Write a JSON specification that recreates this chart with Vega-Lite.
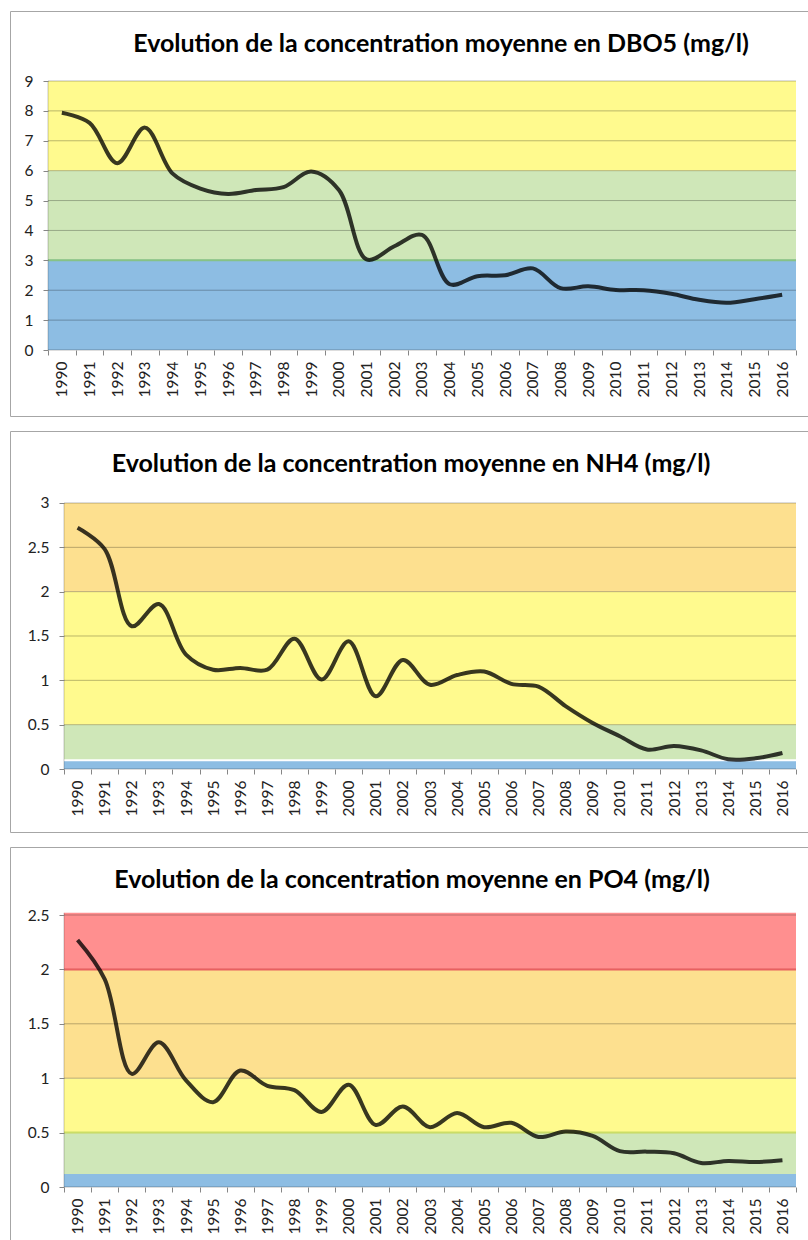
{
  "$schema": "https://vega.github.io/schema/vega-lite/v6.json",
  "padding": {"left": 9, "top": 10, "right": 0, "bottom": 0},
  "background": "white",
  "spacing": 15,
  "bounds": "flush",
  "datasets": {
    "dbo5": [
      {"year": 1990, "value": 7.94}, {"year": 1991, "value": 7.6}, {"year": 1992, "value": 6.25}, {"year": 1993, "value": 7.44},
      {"year": 1994, "value": 5.9}, {"year": 1995, "value": 5.4}, {"year": 1996, "value": 5.22}, {"year": 1997, "value": 5.35},
      {"year": 1998, "value": 5.45}, {"year": 1999, "value": 5.97}, {"year": 2000, "value": 5.35}, {"year": 2001, "value": 3.03},
      {"year": 2002, "value": 3.47}, {"year": 2003, "value": 3.85}, {"year": 2004, "value": 2.2}, {"year": 2005, "value": 2.47},
      {"year": 2006, "value": 2.5}, {"year": 2007, "value": 2.73}, {"year": 2008, "value": 2.07}, {"year": 2009, "value": 2.13},
      {"year": 2010, "value": 2.01}, {"year": 2011, "value": 2.0}, {"year": 2012, "value": 1.88}, {"year": 2013, "value": 1.68},
      {"year": 2014, "value": 1.58}, {"year": 2015, "value": 1.7}, {"year": 2016, "value": 1.85}
    ],
    "nh4": [
      {"year": 1990, "value": 2.72}, {"year": 1991, "value": 2.48}, {"year": 1992, "value": 1.61}, {"year": 1993, "value": 1.86},
      {"year": 1994, "value": 1.29}, {"year": 1995, "value": 1.12}, {"year": 1996, "value": 1.14}, {"year": 1997, "value": 1.12},
      {"year": 1998, "value": 1.47}, {"year": 1999, "value": 1.01}, {"year": 2000, "value": 1.44}, {"year": 2001, "value": 0.82},
      {"year": 2002, "value": 1.23}, {"year": 2003, "value": 0.95}, {"year": 2004, "value": 1.06}, {"year": 2005, "value": 1.1},
      {"year": 2006, "value": 0.96}, {"year": 2007, "value": 0.93}, {"year": 2008, "value": 0.71}, {"year": 2009, "value": 0.52},
      {"year": 2010, "value": 0.37}, {"year": 2011, "value": 0.22}, {"year": 2012, "value": 0.26}, {"year": 2013, "value": 0.21},
      {"year": 2014, "value": 0.11}, {"year": 2015, "value": 0.12}, {"year": 2016, "value": 0.18}
    ],
    "po4": [
      {"year": 1990, "value": 2.27}, {"year": 1991, "value": 1.91}, {"year": 1992, "value": 1.04}, {"year": 1993, "value": 1.33},
      {"year": 1994, "value": 0.98}, {"year": 1995, "value": 0.78}, {"year": 1996, "value": 1.07}, {"year": 1997, "value": 0.93},
      {"year": 1998, "value": 0.89}, {"year": 1999, "value": 0.69}, {"year": 2000, "value": 0.94}, {"year": 2001, "value": 0.57},
      {"year": 2002, "value": 0.74}, {"year": 2003, "value": 0.55}, {"year": 2004, "value": 0.68}, {"year": 2005, "value": 0.55},
      {"year": 2006, "value": 0.59}, {"year": 2007, "value": 0.46}, {"year": 2008, "value": 0.51}, {"year": 2009, "value": 0.47},
      {"year": 2010, "value": 0.33}, {"year": 2011, "value": 0.325}, {"year": 2012, "value": 0.31}, {"year": 2013, "value": 0.22},
      {"year": 2014, "value": 0.24}, {"year": 2015, "value": 0.23}, {"year": 2016, "value": 0.245}
    ],
    "bands_dbo5": [
      {"lo": 0, "hi": 3, "cls": "bleu"}, {"lo": 3, "hi": 6, "cls": "vert"}, {"lo": 6, "hi": 9, "cls": "jaune"}
    ],
    "bands_nh4": [
      {"lo": 0, "hi": 0.1, "cls": "bleu"}, {"lo": 0.1, "hi": 0.5, "cls": "vert"}, {"lo": 0.5, "hi": 2, "cls": "jaune"}, {"lo": 2, "hi": 3, "cls": "orange"}
    ],
    "bands_po4": [
      {"lo": 0, "hi": 0.12, "cls": "bleu"}, {"lo": 0.12, "hi": 0.5, "cls": "vert"}, {"lo": 0.5, "hi": 1, "cls": "jaune"}, {"lo": 1, "hi": 2, "cls": "orange"}, {"lo": 2, "hi": 2.52, "cls": "rouge"}
    ],
    "grid_dbo5": [{"v": 0}, {"v": 1}, {"v": 2}, {"v": 3}, {"v": 4}, {"v": 5}, {"v": 6}, {"v": 7}, {"v": 8}, {"v": 9}],
    "grid_nh4": [{"v": 0}, {"v": 0.5}, {"v": 1}, {"v": 1.5}, {"v": 2}, {"v": 2.5}, {"v": 3}],
    "grid_po4": [{"v": 0}, {"v": 0.5}, {"v": 1}, {"v": 1.5}, {"v": 2}, {"v": 2.5}],
    "edges_dbo5": [{"v": 3, "cls": "vert"}],
    "edges_nh4": [{"v": 0.1, "cls": "blanc"}],
    "edges_po4": [{"v": 2, "cls": "rouge"}, {"v": 0.5, "cls": "jaune"}]
  },
  "vconcat": [
    {
      "width": 798, "height": 405,
      "view": {"stroke": "#A6A6A6", "strokeWidth": 1},
      "title": {"text": "Evolution de la concentration moyenne en DBO5 (mg/l)", "offset": -46, "dx": 32},
      "resolve": {"axis": {"x": "independent", "y": "independent"}},
      "layer": [
        {
          "data": {"name": "bands_dbo5"},
          "mark": {"type": "rect"},
          "encoding": {
            "x": {"datum": 1989.5, "type": "quantitative", "scale": {"domain": [1988.1283, 2016.9332], "nice": false, "zero": false}, "axis": null},
            "x2": {"datum": 2016.5},
            "y": {"field": "lo", "type": "quantitative", "scale": {"domain": [-2.208, 11.342], "nice": false, "zero": false}, "axis": null},
            "y2": {"field": "hi"},
            "color": {"field": "cls", "type": "nominal", "legend": null,
              "scale": {"domain": ["bleu", "vert", "jaune", "orange", "rouge"], "range": ["#8DBDE3", "#CFE7B8", "#FFFA8E", "#FDE08F", "#FF8F8F"]}}
          }
        },
        {
          "data": {"name": "grid_dbo5"},
          "mark": {"type": "rule", "color": "#000000", "opacity": 0.27, "strokeWidth": 1},
          "encoding": {
            "x": {"datum": 1989.5, "type": "quantitative", "axis": null},
            "x2": {"datum": 2016.5},
            "y": {"field": "v", "type": "quantitative", "axis": null}
          }
        },
        {
          "data": {"name": "edges_dbo5"},
          "mark": {"type": "rule", "strokeWidth": 2},
          "encoding": {
            "x": {"datum": 1989.5, "type": "quantitative", "axis": null},
            "x2": {"datum": 2016.5},
            "y": {"field": "v", "type": "quantitative", "axis": null},
            "stroke": {"field": "cls", "type": "nominal", "legend": null,
              "scale": {"domain": ["vert", "blanc", "rouge", "jaune"], "range": ["#86C286", "#FFFFFF", "#E86060", "#CBDD66"]}}
          }
        },
        {
          "data": {"values": [{}]},
          "mark": {"type": "rule", "color": "#000000", "opacity": 0.22, "strokeWidth": 1},
          "encoding": {
            "x": {"datum": 1989.5, "type": "quantitative", "axis": null},
            "y": {"datum": 0, "type": "quantitative", "axis": null},
            "y2": {"datum": 9}
          }
        },
        {
          "data": {"name": "dbo5"},
          "mark": {"type": "line", "interpolate": "catmull-rom", "color": "#000000", "strokeWidth": 4, "opacity": 0.78},
          "encoding": {
            "x": {"field": "year", "type": "quantitative",
              "axis": {"values": [1989.5, 1990.5, 1991.5, 1992.5, 1993.5, 1994.5, 1995.5, 1996.5, 1997.5, 1998.5, 1999.5, 2000.5, 2001.5, 2002.5, 2003.5, 2004.5, 2005.5, 2006.5, 2007.5, 2008.5, 2009.5, 2010.5, 2011.5, 2012.5, 2013.5, 2014.5, 2015.5, 2016.5],
                "labelExpr": "datum.value > 2016 ? '' : format(datum.value + 0.5, 'd')", "labelOffset": 13.85, "offset": -66, "title": null, "zindex": 2,
                "labelAngle": -90, "labelAlign": "right", "labelBaseline": "middle", "labelPadding": 6, "tickSize": 5, "ticks": true, "domain": false, "grid": false}},
            "y": {"field": "value", "type": "quantitative",
              "axis": {"values": [0, 1, 2, 3, 4, 5, 6, 7, 8, 9], "offset": -38, "format": "~g", "title": null, "zindex": 2,
                "labelPadding": 10, "tickSize": 5, "ticks": true, "domain": false, "grid": false}}
          }
        }
      ]
    },
    {
      "width": 798, "height": 401,
      "view": {"stroke": "#A6A6A6", "strokeWidth": 1},
      "title": {"text": "Evolution de la concentration moyenne en NH4 (mg/l)", "offset": -46, "dx": 2},
      "resolve": {"axis": {"x": "independent", "y": "independent"}},
      "layer": [
        {
          "data": {"name": "bands_nh4"},
          "mark": {"type": "rect"},
          "encoding": {
            "x": {"datum": 1989.5, "type": "quantitative", "scale": {"domain": [1987.5082, 2016.9426], "nice": false, "zero": false}, "axis": null},
            "x2": {"datum": 2016.5},
            "y": {"field": "lo", "type": "quantitative", "scale": {"domain": [-0.7105, 3.812], "nice": false, "zero": false}, "axis": null},
            "y2": {"field": "hi"},
            "color": {"field": "cls", "type": "nominal", "legend": null,
              "scale": {"domain": ["bleu", "vert", "jaune", "orange", "rouge"], "range": ["#8DBDE3", "#CFE7B8", "#FFFA8E", "#FDE08F", "#FF8F8F"]}}
          }
        },
        {
          "data": {"name": "grid_nh4"},
          "mark": {"type": "rule", "color": "#000000", "opacity": 0.27, "strokeWidth": 1},
          "encoding": {
            "x": {"datum": 1989.5, "type": "quantitative", "axis": null},
            "x2": {"datum": 2016.5},
            "y": {"field": "v", "type": "quantitative", "axis": null}
          }
        },
        {
          "data": {"name": "edges_nh4"},
          "mark": {"type": "rule", "strokeWidth": 2},
          "encoding": {
            "x": {"datum": 1989.5, "type": "quantitative", "axis": null},
            "x2": {"datum": 2016.5},
            "y": {"field": "v", "type": "quantitative", "axis": null},
            "stroke": {"field": "cls", "type": "nominal", "legend": null,
              "scale": {"domain": ["vert", "blanc", "rouge", "jaune"], "range": ["#86C286", "#FFFFFF", "#E86060", "#CBDD66"]}}
          }
        },
        {
          "data": {"values": [{}]},
          "mark": {"type": "rule", "color": "#000000", "opacity": 0.22, "strokeWidth": 1},
          "encoding": {
            "x": {"datum": 1989.5, "type": "quantitative", "axis": null},
            "y": {"datum": 0, "type": "quantitative", "axis": null},
            "y2": {"datum": 3}
          }
        },
        {
          "data": {"name": "nh4"},
          "mark": {"type": "line", "interpolate": "catmull-rom", "color": "#000000", "strokeWidth": 4, "opacity": 0.78},
          "encoding": {
            "x": {"field": "year", "type": "quantitative",
              "axis": {"values": [1989.5, 1990.5, 1991.5, 1992.5, 1993.5, 1994.5, 1995.5, 1996.5, 1997.5, 1998.5, 1999.5, 2000.5, 2001.5, 2002.5, 2003.5, 2004.5, 2005.5, 2006.5, 2007.5, 2008.5, 2009.5, 2010.5, 2011.5, 2012.5, 2013.5, 2014.5, 2015.5, 2016.5],
                "labelExpr": "datum.value > 2016 ? '' : format(datum.value + 0.5, 'd')", "labelOffset": 13.56, "offset": -63, "title": null, "zindex": 2,
                "labelAngle": -90, "labelAlign": "right", "labelBaseline": "middle", "labelPadding": 6, "tickSize": 5, "ticks": true, "domain": false, "grid": false}},
            "y": {"field": "value", "type": "quantitative",
              "axis": {"values": [0, 0.5, 1, 1.5, 2, 2.5, 3], "offset": -54, "format": "~g", "title": null, "zindex": 2,
                "labelPadding": 10, "tickSize": 5, "ticks": true, "domain": false, "grid": false}}
          }
        }
      ]
    },
    {
      "width": 798, "height": 393,
      "view": {"stroke": "#A6A6A6", "strokeWidth": 1},
      "title": {"text": "Evolution de la concentration moyenne en PO4 (mg/l)", "offset": -46, "dx": 3},
      "resolve": {"axis": {"x": "independent", "y": "independent"}},
      "layer": [
        {
          "data": {"name": "bands_po4"},
          "mark": {"type": "rect"},
          "encoding": {
            "x": {"datum": 1989.5, "type": "quantitative", "scale": {"domain": [1987.5082, 2016.9426], "nice": false, "zero": false}, "axis": null},
            "x2": {"datum": 2016.5},
            "y": {"field": "lo", "type": "quantitative", "scale": {"domain": [-0.4871, 3.125], "nice": false, "zero": false}, "axis": null},
            "y2": {"field": "hi"},
            "color": {"field": "cls", "type": "nominal", "legend": null,
              "scale": {"domain": ["bleu", "vert", "jaune", "orange", "rouge"], "range": ["#8DBDE3", "#CFE7B8", "#FFFA8E", "#FDE08F", "#FF8F8F"]}}
          }
        },
        {
          "data": {"name": "grid_po4"},
          "mark": {"type": "rule", "color": "#000000", "opacity": 0.27, "strokeWidth": 1},
          "encoding": {
            "x": {"datum": 1989.5, "type": "quantitative", "axis": null},
            "x2": {"datum": 2016.5},
            "y": {"field": "v", "type": "quantitative", "axis": null}
          }
        },
        {
          "data": {"name": "edges_po4"},
          "mark": {"type": "rule", "strokeWidth": 2},
          "encoding": {
            "x": {"datum": 1989.5, "type": "quantitative", "axis": null},
            "x2": {"datum": 2016.5},
            "y": {"field": "v", "type": "quantitative", "axis": null},
            "stroke": {"field": "cls", "type": "nominal", "legend": null,
              "scale": {"domain": ["vert", "blanc", "rouge", "jaune"], "range": ["#86C286", "#FFFFFF", "#E86060", "#CBDD66"]}}
          }
        },
        {
          "data": {"values": [{}]},
          "mark": {"type": "rule", "color": "#000000", "opacity": 0.22, "strokeWidth": 1},
          "encoding": {
            "x": {"datum": 1989.5, "type": "quantitative", "axis": null},
            "y": {"datum": 0, "type": "quantitative", "axis": null},
            "y2": {"datum": 2.52}
          }
        },
        {
          "data": {"name": "po4"},
          "mark": {"type": "line", "interpolate": "catmull-rom", "color": "#000000", "strokeWidth": 4, "opacity": 0.78},
          "encoding": {
            "x": {"field": "year", "type": "quantitative",
              "axis": {"values": [1989.5, 1990.5, 1991.5, 1992.5, 1993.5, 1994.5, 1995.5, 1996.5, 1997.5, 1998.5, 1999.5, 2000.5, 2001.5, 2002.5, 2003.5, 2004.5, 2005.5, 2006.5, 2007.5, 2008.5, 2009.5, 2010.5, 2011.5, 2012.5, 2013.5, 2014.5, 2015.5, 2016.5],
                "labelExpr": "datum.value > 2016 ? '' : format(datum.value + 0.5, 'd')", "labelOffset": 13.56, "offset": -53, "title": null, "zindex": 2,
                "labelAngle": -90, "labelAlign": "right", "labelBaseline": "middle", "labelPadding": 6, "tickSize": 5, "ticks": true, "domain": false, "grid": false}},
            "y": {"field": "value", "type": "quantitative",
              "axis": {"values": [0, 0.5, 1, 1.5, 2, 2.5], "offset": -54, "format": "~g", "title": null, "zindex": 2,
                "labelPadding": 10, "tickSize": 5, "ticks": true, "domain": false, "grid": false}}
          }
        }
      ]
    }
  ],
  "config": {
    "font": "Lato",
    "title": {"font": "Lato", "fontSize": 25, "fontWeight": "bold", "color": "#000000", "anchor": "middle", "frame": "group"},
    "axis": {"tickColor": "#868686", "tickWidth": 1,
      "labelFont": "Lato", "labelFontSize": 15.5, "labelColor": "#222222",
      "labelOverlap": false, "labelFlush": false, "labelBound": false}
  }
}
